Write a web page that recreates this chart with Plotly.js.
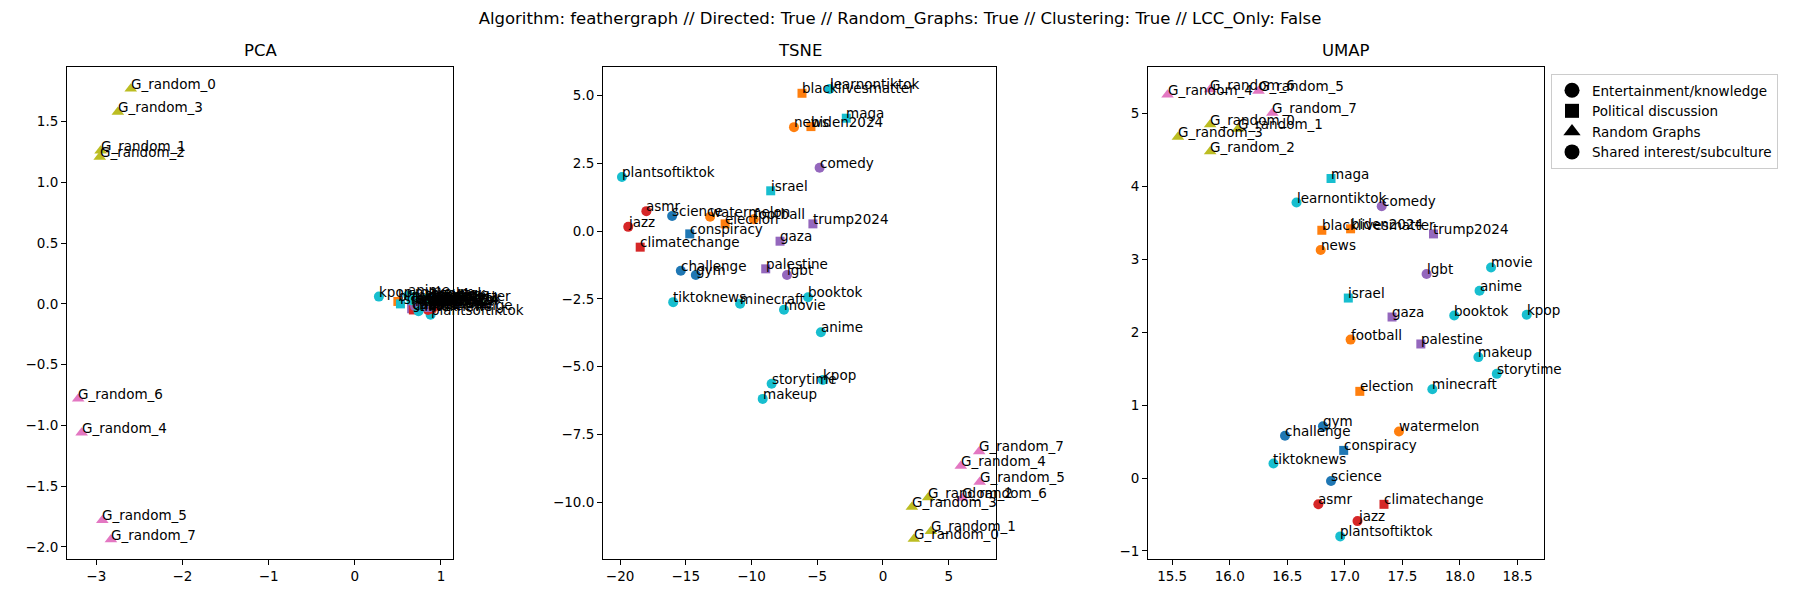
<!DOCTYPE html>
<html><head><meta charset="utf-8">
<script src="https://cdn.plot.ly/plotly-3.0.1.min.js"></script>
<style>html,body{margin:0;padding:0;background:#fff}#c{width:1800px;height:600px}</style>
</head><body><div id="c"></div>
<script>
const names = ["learnontiktok","blacklivesmatter","maga","news","biden2024","comedy","plantsoftiktok","israel","asmr","science","watermelon","election","football","jazz","trump2024","conspiracy","gaza","climatechange","challenge","gym","palestine","lgbt","tiktoknews","minecraft","booktok","movie","anime","storytime","kpop","makeup","G_random_0","G_random_1","G_random_2","G_random_3","G_random_4","G_random_5","G_random_6","G_random_7"];
const categories = ["Entertainment/knowledge","Political discussion","Political discussion","Entertainment/knowledge","Political discussion","Shared interest/subculture","Shared interest/subculture","Political discussion","Shared interest/subculture","Entertainment/knowledge","Shared interest/subculture","Political discussion","Shared interest/subculture","Shared interest/subculture","Political discussion","Political discussion","Political discussion","Political discussion","Shared interest/subculture","Shared interest/subculture","Political discussion","Shared interest/subculture","Entertainment/knowledge","Entertainment/knowledge","Entertainment/knowledge","Entertainment/knowledge","Entertainment/knowledge","Entertainment/knowledge","Shared interest/subculture","Shared interest/subculture","Random Graphs","Random Graphs","Random Graphs","Random Graphs","Random Graphs","Random Graphs","Random Graphs","Random Graphs"];
const clusters = [9,1,9,1,1,4,9,9,3,0,1,1,1,3,4,0,4,3,0,0,4,4,9,9,9,9,9,9,9,9,8,8,8,8,6,6,6,6];
const pcaX = [0.66,0.50,0.74,0.88,0.84,0.90,0.88,0.53,0.85,0.90,0.72,0.88,0.89,0.90,0.79,0.78,0.66,0.68,0.84,0.89,0.86,0.70,0.74,0.66,0.88,0.85,0.62,0.82,0.28,0.70,-2.60,-2.95,-2.96,-2.75,-3.17,-2.93,-3.21,-2.83];
const pcaY = [0.01,0.02,0.01,0.01,0.00,0.02,-0.09,0.00,-0.05,-0.02,0.00,-0.03,0.02,-0.04,-0.01,-0.02,-0.04,-0.05,-0.01,0.01,-0.03,-0.02,-0.06,0.03,0.05,0.03,0.07,0.04,0.06,0.06,1.77,1.26,1.21,1.58,-1.06,-1.78,-0.78,-1.94];
const tsneX = [-4.06,-6.16,-2.79,-6.77,-5.48,-4.82,-19.86,-8.54,-18.0,-16.04,-13.15,-12.01,-9.83,-19.38,-5.33,-14.70,-7.83,-18.47,-15.38,-14.24,-8.92,-7.30,-15.96,-10.87,-5.70,-7.53,-4.72,-8.47,-4.57,-9.15,2.35,3.64,3.44,2.20,5.92,7.36,6.02,7.32];
const tsneY = [5.25,5.09,4.17,3.84,3.86,2.34,2.00,1.49,0.74,0.56,0.53,0.27,0.44,0.16,0.27,-0.10,-0.37,-0.59,-1.46,-1.62,-1.39,-1.62,-2.62,-2.68,-2.44,-2.90,-3.73,-5.63,-5.49,-6.19,-11.36,-11.08,-9.83,-10.18,-8.67,-9.26,-9.85,-8.13];
const umapX = [16.58,16.80,16.88,16.79,17.05,17.32,16.96,17.03,16.77,16.88,17.47,17.13,17.05,17.11,17.77,16.99,17.41,17.34,16.48,16.81,17.66,17.71,16.38,17.76,17.95,18.27,18.17,18.32,18.58,18.16,15.83,16.07,15.83,15.55,15.46,16.25,15.83,16.37];
const umapY = [3.78,3.40,4.11,3.13,3.42,3.73,-0.80,2.47,-0.36,-0.04,0.64,1.19,1.90,-0.59,3.35,0.38,2.21,-0.36,0.58,0.71,1.84,2.80,0.20,1.22,2.23,2.89,2.57,1.43,2.24,1.66,4.85,4.79,4.48,4.68,5.26,5.31,5.33,5.01];
const legendLabels = ["Entertainment/knowledge","Political discussion","Random Graphs","Shared interest/subculture"];
const subplotTitles = ["PCA","TSNE","UMAP"];
const figTitle = "Algorithm: feathergraph // Directed: True // Random_Graphs: True // Clustering: True // LCC_Only: False";

const tab10 = ["#1f77b4","#ff7f0e","#2ca02c","#d62728","#9467bd","#8c564b","#e377c2","#7f7f7f","#bcbd22","#17becf"];
const symbolOf = c => c === "Political discussion" ? "square" : (c === "Random Graphs" ? "triangle-up" : "circle");
const sizeOf = c => c === "Political discussion" ? 9 : (c === "Random Graphs" ? 11 : 10);
const colors = clusters.map(k => tab10[k]);
const symbols = categories.map(symbolOf);
const sizes = categories.map(sizeOf);

const panels = [
  {xs: pcaX, ys: pcaY, xa: "x", ya: "y"},
  {xs: tsneX, ys: tsneY, xa: "x2", ya: "y2"},
  {xs: umapX, ys: umapY, xa: "x3", ya: "y3"}
];
const traces = [];
const annotations = [];
panels.forEach((p, i) => {
  traces.push({type: "scatter", mode: "markers", x: p.xs, y: p.ys, xaxis: p.xa, yaxis: p.ya,
    marker: {color: colors, symbol: symbols, size: sizes, opacity: 1, line: {width: 0}}, opacity: 1, showlegend: false, hoverinfo: "text", text: names});
  names.forEach((n, j) => {
    annotations.push({x: p.xs[j], y: p.ys[j], xref: p.xa, yref: p.ya, text: n, showarrow: false,
      xanchor: "left", yanchor: "bottom", xshift: -2, yshift: -5,
      font: {family: "DejaVu Sans", size: 13.5, color: "#000"}});
  });
});
const doms = [[67,453],[603,996],[1148,1544]];
doms.forEach((d, i) => {
  annotations.push({xref: "paper", yref: "paper", x: (d[0]+d[1])/2/1800, y: 1-67/600, yanchor: "bottom", xanchor: "center",
    yshift: 5, text: subplotTitles[i], showarrow: false, font: {family: "DejaVu Sans", size: 16.5, color: "#000"}});
});
legendLabels.forEach(l => {
  traces.push({type: "scatter", mode: "markers", x: [null], y: [null], name: l,
    marker: {color: "#000", symbol: symbolOf(l), size: l === "Political discussion" ? 14 : 15, opacity: 1}, showlegend: true});
});

const axBase = {showline: true, mirror: true, linecolor: "#000", linewidth: 1, ticks: "outside", ticklen: 5, tickwidth: 1,
  tickcolor: "#000", showgrid: false, zeroline: false, tickfont: {family: "DejaVu Sans", size: 13.5, color: "#000"}};
const yTop = 1 - 67/600, yBot = 1 - 559/600;
const layout = {
  width: 1800, height: 600, margin: {l: 0, r: 0, t: 0, b: 0}, paper_bgcolor: "#fff", plot_bgcolor: "#fff",
  font: {family: "DejaVu Sans", color: "#000"},
  title: {text: figTitle, x: 0.5, xanchor: "center", y: 1 - 18/600, yanchor: "middle", font: {family: "DejaVu Sans", size: 16.5, color: "#000"}},
  xaxis: Object.assign({}, axBase, {domain: [67/1800, 453/1800], range: [-3.34, 1.14], tickvals: [-3,-2,-1,0,1], ticktext: ["\u22123","\u22122","\u22121","0","1"], anchor: "y"}),
  yaxis: Object.assign({}, axBase, {domain: [yBot, yTop], range: [-2.10, 1.95], tickvals: [-2,-1.5,-1,-0.5,0,0.5,1,1.5], ticktext: ["\u22122.0","\u22121.5","\u22121.0","\u22120.5","0.0","0.5","1.0","1.5"], anchor: "x"}),
  xaxis2: Object.assign({}, axBase, {domain: [603/1800, 996/1800], range: [-21.3, 8.6], tickvals: [-20,-15,-10,-5,0,5], ticktext: ["\u221220","\u221215","\u221210","\u22125","0","5"], anchor: "y2"}),
  yaxis2: Object.assign({}, axBase, {domain: [yBot, yTop], range: [-12.1, 6.06], tickvals: [-10,-7.5,-5,-2.5,0,2.5,5], ticktext: ["\u221210.0","\u22127.5","\u22125.0","\u22122.5","0.0","2.5","5.0"], anchor: "x2"}),
  xaxis3: Object.assign({}, axBase, {domain: [1148/1800, 1544/1800], range: [15.29, 18.73], tickvals: [15.5,16,16.5,17,17.5,18,18.5], ticktext: ["15.5","16.0","16.5","17.0","17.5","18.0","18.5"], anchor: "y3"}),
  yaxis3: Object.assign({}, axBase, {domain: [yBot, yTop], range: [-1.11, 5.64], tickvals: [-1,0,1,2,3,4,5], ticktext: ["\u22121","0","1","2","3","4","5"], anchor: "x3"}),
  legend: {x: 1551/1800, y: 1 - 74/600, xanchor: "left", yanchor: "top", bordercolor: "#cccccc", borderwidth: 1, bgcolor: "#fff",
    font: {family: "DejaVu Sans", size: 13.5, color: "#000"}, tracegroupgap: 0, itemsizing: "trace"},
  annotations: annotations
};
Plotly.newPlot("c", traces, layout, {staticPlot: true});
</script></body></html>
